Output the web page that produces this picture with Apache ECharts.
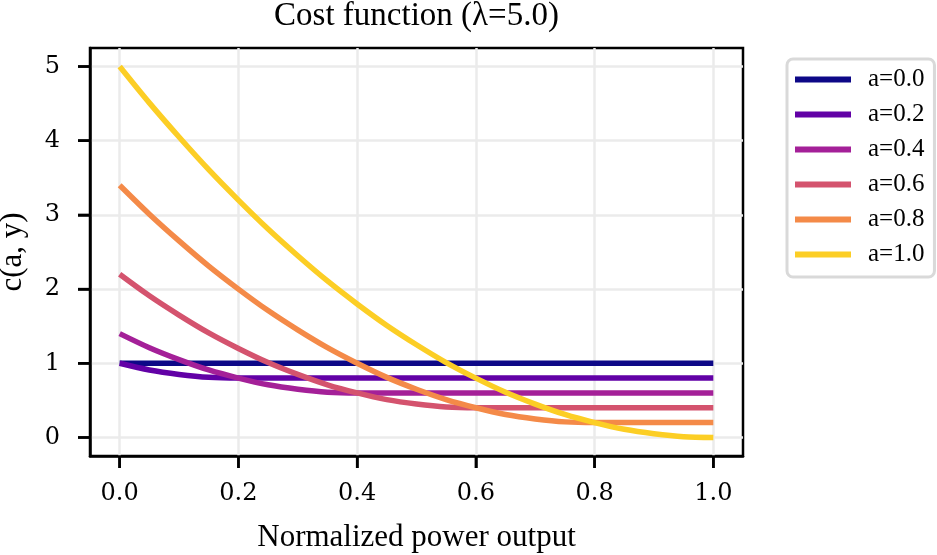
<!DOCTYPE html>
<html>
<head>
<meta charset="utf-8">
<script src="https://cdn.jsdelivr.net/npm/echarts@6/dist/echarts.min.js"></script>
<style>
html,body{margin:0;padding:0;background:#fff;}
#chart{width:937px;height:555px;}
</style>
</head>
<body>
<div id="chart"></div>
<script>
// Normalized power output samples
var xs = [0.00,0.05,0.10,0.15,0.20,0.25,0.30,0.35,0.40,0.45,0.50,0.55,0.60,0.65,0.70,0.75,0.80,0.85,0.90,0.95,1.00];
// Series values
var a00 = [1.00,1.00,1.00,1.00,1.00,1.00,1.00,1.00,1.00,1.00,1.00,1.00,1.00,1.00,1.00,1.00,1.00,1.00,1.00,1.00,1.00];
var a02 = [1.00,0.91,0.85,0.81,0.80,0.80,0.80,0.80,0.80,0.80,0.80,0.80,0.80,0.80,0.80,0.80,0.80,0.80,0.80,0.80,0.80];
var a04 = [1.40,1.21,1.05,0.91,0.80,0.71,0.65,0.61,0.60,0.60,0.60,0.60,0.60,0.60,0.60,0.60,0.60,0.60,0.60,0.60,0.60];
var a06 = [2.20,1.91,1.65,1.41,1.20,1.01,0.85,0.71,0.60,0.51,0.45,0.41,0.40,0.40,0.40,0.40,0.40,0.40,0.40,0.40,0.40];
var a08 = [3.40,3.01,2.65,2.31,2.00,1.71,1.45,1.21,1.00,0.81,0.65,0.51,0.40,0.31,0.25,0.21,0.20,0.20,0.20,0.20,0.20];
var a10 = [5.00,4.51,4.05,3.61,3.20,2.81,2.45,2.11,1.80,1.51,1.25,1.01,0.80,0.61,0.45,0.31,0.20,0.11,0.05,0.01,0.00];
var seriesNames = ['a=0.0','a=0.2','a=0.4','a=0.6','a=0.8','a=1.0'];
var seriesValues = [a00,a02,a04,a06,a08,a10];
var colors = ['#0d0887','#6201a6','#a42098','#d4536e','#f48a48','#fcce25'];
// Tick values
var xTicks = [0,0.2,0.4,0.6,0.8,1.0];
var yTicks = [0,1,2,3,4,5];

var serif = 'Liberation Serif';
var tickFont = 'DejaVu Serif';
var xMin = -0.05, xMax = 1.05, yMin = -0.25, yMax = 5.25;

var series = seriesNames.map(function(n,i){
  return {
    name:n, type:'line', showSymbol:false, symbol:'none',
    smooth:0.3,
    lineStyle:{width:5.5,color:colors[i],cap:'butt',join:'round'},
    itemStyle:{color:colors[i]},
    data: xs.map(function(x,j){return [x, seriesValues[i][j]];})
  };
});

var chart = echarts.init(document.getElementById('chart'), null, {renderer:'canvas'});
chart.setOption({
  animation:false,
  backgroundColor:'#ffffff',
  title:{
    text:'Cost function (λ=5.0)',
    left:416.5, textAlign:'center', top:0, padding:0,
    textStyle:{fontFamily:serif,fontSize:33,fontWeight:'normal',color:'#000'}
  },
  legend:{
    orient:'vertical', left:787, top:59,
    padding:[8,10,10,8],
    backgroundColor:'#fff',
    borderColor:'#d9d9d9', borderWidth:3, borderRadius:6,
    icon:'rect', itemWidth:56, itemHeight:6, itemGap:10,
    textStyle:{fontFamily:serif,fontSize:25,color:'#000',lineHeight:25,padding:[0,0,0,12]},
    data:seriesNames
  },
  grid:{
    left:90, right:194, top:48, bottom:99,
    outerBoundsMode:'none', containLabel:false,
    show:true, borderColor:'#000', borderWidth:2.5, backgroundColor:'transparent'
  },
  xAxis:{
    type:'value', min:xMin, max:xMax, position:'bottom',
    name:'Normalized power output', nameLocation:'middle', nameGap:66,
    nameTextStyle:{fontFamily:serif,fontSize:31,color:'#000'},
    axisLine:{show:true,onZero:false,lineStyle:{color:'#000',width:2.5}},
    axisTick:{show:true,inside:false,length:12,lineStyle:{color:'#000',width:2.5},customValues:xTicks},
    axisLabel:{margin:26,fontFamily:tickFont,fontSize:24,color:'#000',customValues:xTicks,
      formatter:function(v){return v.toFixed(1);}},
    splitLine:{show:true,lineStyle:{color:'#ebebeb',width:2.5}}
  },
  yAxis:{
    type:'value', min:yMin, max:yMax, position:'left',
    name:'c(a, y)', nameLocation:'middle', nameGap:62, nameRotate:90,
    nameTextStyle:{fontFamily:serif,fontSize:31,color:'#000'},
    axisLine:{show:true,onZero:false,lineStyle:{color:'#000',width:2.5}},
    axisTick:{show:true,inside:false,length:12,lineStyle:{color:'#000',width:2.5},customValues:yTicks},
    axisLabel:{margin:30,fontFamily:tickFont,fontSize:24,color:'#000',customValues:yTicks,
      formatter:function(v){return String(Math.round(v));}},
    splitLine:{show:true,lineStyle:{color:'#ebebeb',width:2.5}}
  },
  series:series
});

// tick marks placed through the chart's own axis scales
var tickLen = 12;
var bottomPx = chart.convertToPixel({yAxisIndex:0}, yMin);
var leftPx = chart.convertToPixel({xAxisIndex:0}, xMin);
var marks = [];
xTicks.forEach(function(v){
  var px = chart.convertToPixel({xAxisIndex:0}, v);
  marks.push({type:'line', silent:true, z:10,
    shape:{x1:px, y1:bottomPx, x2:px, y2:bottomPx + tickLen},
    style:{stroke:'#000', lineWidth:2.5}});
});
yTicks.forEach(function(v){
  var py = chart.convertToPixel({yAxisIndex:0}, v);
  marks.push({type:'line', silent:true, z:10,
    shape:{x1:leftPx - tickLen, y1:py, x2:leftPx, y2:py},
    style:{stroke:'#000', lineWidth:2.5}});
});
chart.setOption({graphic:marks});
</script>
</body>
</html>
